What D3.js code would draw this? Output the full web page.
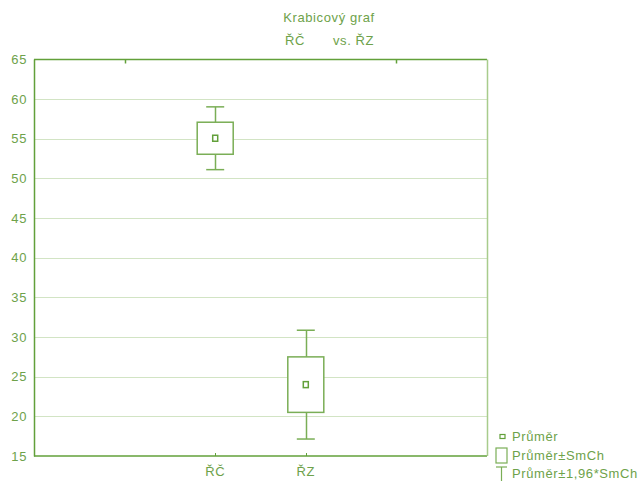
<!DOCTYPE html>
<html>
<head>
<meta charset="utf-8">
<script src="https://cdn.jsdelivr.net/npm/d3@7"></script>
<style>
  html, body { margin: 0; padding: 0; background: #fff; }
  svg text { font-family: "Liberation Sans", Arial, sans-serif; fill: #6ea24a; font-size: 13px; letter-spacing: 0.6px; }
</style>
</head>
<body>
<svg id="chart" width="643" height="481"></svg>
<script>
// Group means and standard errors (SmCh)
const categories = ["ŘČ", "ŘZ"];
const means = [55.07, 24.0];
const stdErrors = [2.02, 3.5];
const yTicks = [15, 20, 25, 30, 35, 40, 45, 50, 55, 60, 65];
const legendLabels = ["Průměr", "Průměr±SmCh", "Průměr±1,96*SmCh"];

const dark = "#62a03a";
const mid = "#7aae56";
const light = "#a8cc8c";
const grid = "#d2e4c4";

const svg = d3.select("#chart");
const plot = { left: 34, right: 487, top: 59.5, bottom: 456 };

// five slots across the frame; the groups sit on the 2nd and 3rd inner ticks
const x = d3.scaleLinear().domain([0, 5]).range([plot.left, plot.right]);
const xPos = i => x(i + 2);
const y = d3.scaleLinear().domain([15, 65]).range([plot.bottom, plot.top]);

// horizontal grid
svg.append("g").selectAll("line")
  .data(yTicks.filter(t => t > 15 && t < 65))
  .join("line")
  .attr("x1", plot.left).attr("x2", plot.right)
  .attr("y1", d => Math.round(y(d)) + 0.5).attr("y2", d => Math.round(y(d)) + 0.5)
  .attr("stroke", grid).attr("stroke-width", 1);

// y axis labels
const yAxis = d3.axisLeft(y).tickValues(yTicks).tickSize(0).tickPadding(7);
const gy = svg.append("g").attr("transform", `translate(${plot.left},0)`).call(yAxis);
gy.select(".domain").remove();
gy.attr("font-size", null).attr("font-family", null);
gy.selectAll("text").attr("fill", "#6ea24a");

// frame
const fr = svg.append("g");
fr.append("line").attr("x1", plot.left + 0.5).attr("x2", plot.left + 0.5)
  .attr("y1", plot.top).attr("y2", plot.bottom + 0.5).attr("stroke", dark).attr("stroke-width", 1.5);
fr.append("line").attr("x1", plot.left).attr("x2", plot.right)
  .attr("y1", plot.bottom).attr("y2", plot.bottom).attr("stroke", dark).attr("stroke-width", 1.5);
fr.append("line").attr("x1", plot.left).attr("x2", plot.right)
  .attr("y1", plot.top).attr("y2", plot.top).attr("stroke", dark).attr("stroke-width", 1.5);
fr.append("line").attr("x1", plot.right + 0.5).attr("x2", plot.right + 0.5)
  .attr("y1", plot.top).attr("y2", plot.bottom).attr("stroke", light).attr("stroke-width", 1.5);

// top ticks at the outer slots
fr.selectAll("line.tt").data([1, 4]).join("line").attr("class", "tt")
  .attr("x1", d => Math.round(x(d)) + 0.5).attr("x2", d => Math.round(x(d)) + 0.5)
  .attr("y1", plot.top).attr("y2", plot.top + 4).attr("stroke", dark).attr("stroke-width", 1.5);

// bottom ticks and category labels
const xg = svg.append("g");
xg.selectAll("line").data(categories).join("line")
  .attr("x1", (d, i) => Math.round(xPos(i)) + 0.5).attr("x2", (d, i) => Math.round(xPos(i)) + 0.5)
  .attr("y1", plot.bottom).attr("y2", plot.bottom - 3).attr("stroke", dark);
xg.selectAll("text").data(categories).join("text")
  .attr("x", (d, i) => xPos(i)).attr("y", 476)
  .attr("text-anchor", "middle")
  .text(d => d);

// boxes: mean ± SE, whiskers: mean ± 1.96·SE
const boxW = 36, capW = 18;
const g = svg.append("g").selectAll("g").data(categories).join("g");
g.append("line")
  .attr("x1", (d, i) => Math.round(xPos(i)) + 0.5).attr("x2", (d, i) => Math.round(xPos(i)) + 0.5)
  .attr("y1", (d, i) => y(means[i] + 1.96 * stdErrors[i]))
  .attr("y2", (d, i) => y(means[i] - 1.96 * stdErrors[i]))
  .attr("stroke", mid).attr("stroke-width", 1.5);
[1.96, -1.96].forEach(k => {
  g.append("line")
    .attr("x1", (d, i) => xPos(i) - capW / 2).attr("x2", (d, i) => xPos(i) + capW / 2)
    .attr("y1", (d, i) => y(means[i] + k * stdErrors[i]))
    .attr("y2", (d, i) => y(means[i] + k * stdErrors[i]))
    .attr("stroke", mid).attr("stroke-width", 1.5);
});
g.append("rect")
  .attr("x", (d, i) => xPos(i) - boxW / 2)
  .attr("y", (d, i) => y(means[i] + stdErrors[i]))
  .attr("width", boxW)
  .attr("height", (d, i) => y(means[i] - stdErrors[i]) - y(means[i] + stdErrors[i]))
  .attr("fill", "#fff").attr("stroke", mid).attr("stroke-width", 1.5);
g.append("rect")
  .attr("x", (d, i) => xPos(i) - 2.5).attr("y", (d, i) => y(means[i]) - 3)
  .attr("width", 5).attr("height", 6)
  .attr("fill", "#fff").attr("stroke", dark).attr("stroke-width", 1.5);

// title
const title = svg.append("g");
title.append("text").attr("x", 329).attr("y", 22).attr("text-anchor", "middle").text("Krabicový graf");
title.append("text").attr("x", 285).attr("y", 45).text(categories[0]);
title.append("text").attr("x", 333).attr("y", 45).text("vs. " + categories[1]);

// legend
const lg = svg.append("g");
lg.append("rect").attr("x", 500).attr("y", 434.5).attr("width", 5).attr("height", 4)
  .attr("fill", "#fff").attr("stroke", dark).attr("stroke-width", 1.2);
lg.append("rect").attr("x", 496).attr("y", 448).attr("width", 11).attr("height", 15)
  .attr("fill", "#fff").attr("stroke", mid).attr("stroke-width", 1.2);
lg.append("line").attr("x1", 496).attr("x2", 507).attr("y1", 467).attr("y2", 467)
  .attr("stroke", mid).attr("stroke-width", 1.2);
lg.append("line").attr("x1", 501.5).attr("x2", 501.5).attr("y1", 467).attr("y2", 481)
  .attr("stroke", mid).attr("stroke-width", 1.2);
lg.selectAll("text").data(legendLabels).join("text")
  .attr("x", 512).attr("y", (d, i) => 441 + i * 18.5)
  .text(d => d);
</script>
</body>
</html>
